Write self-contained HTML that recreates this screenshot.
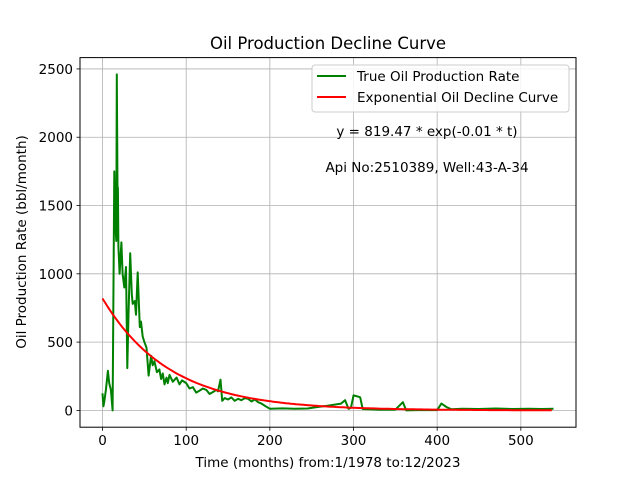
<!DOCTYPE html>
<html><head><meta charset="utf-8"><style>
body{margin:0;background:#fff}
svg text{font-family:"DejaVu Sans","Liberation Sans",sans-serif}
</style></head><body>
<svg id="chart" width="640" height="480" viewBox="0 0 640 480" xmlns="http://www.w3.org/2000/svg">
<rect width="640" height="480" fill="#fff"/>
<g id="grid"></g>
<g id="series"></g>
<rect x="80" y="57.6" width="496" height="369.6" fill="none" stroke="#000" stroke-width="1"/>
<g id="ticks"></g>
<text x="328" y="49" font-size="16.5" text-anchor="middle">Oil Production Decline Curve</text>
<text x="328" y="467" font-size="13.5" text-anchor="middle">Time (months) from:1/1978 to:12/2023</text>
<text x="0" y="0" font-size="13.5" text-anchor="middle" transform="translate(26,242) rotate(-90)">Oil Production Rate (bbl/month)</text>
<g>
<rect x="312" y="65" width="257" height="47" rx="3" fill="#fff" fill-opacity="0.85" stroke="#ccc"/>
<line x1="317" y1="76" x2="346" y2="76" stroke="green" stroke-width="2"/>
<text x="357" y="81" font-size="13.5">True Oil Production Rate</text>
<line x1="317" y1="97" x2="346" y2="97" stroke="red" stroke-width="2"/>
<text x="357" y="102" font-size="13.5">Exponential Oil Decline Curve</text>
</g>
<text x="427" y="136" font-size="13.5" text-anchor="middle">y = 819.47 * exp(-0.01 * t)</text>
<text x="427" y="172" font-size="13.5" text-anchor="middle">Api No:2510389, Well:43-A-34</text>
</svg>
<script>
const months=[0,1,2,4,6.4,8,10,12,14,15,16.4,17,18,18.4,19,20.4,22.5,24,26,28,29.6,31,33,35,36,38.5,40,42,44.5,46,48,50,52.5,55,58,60,62,65,68,70,72,74,76.5,78,80,84,88.5,92,95,100,104,108,112,116,120,124,128,132,136,138,141,143,146,150,154,158,162,166,170,174,178,182,186,190,195,200,215,230,245,257,270,285,290,294,297,300,306,308,311,330,350,359,363,380,400,405,411,417,430,450,470,490,510,525,539];
const oilRate=[125,30,60,150,290,200,150,0,1750,1400,1240,2460,1500,1630,1200,1000,1230,1000,900,1050,310,700,1150,850,780,800,700,1010,610,650,540,500,460,255,400,330,360,280,300,230,270,190,240,200,260,210,240,190,220,200,160,170,130,145,160,150,120,135,150,140,225,70,90,80,95,70,85,75,90,85,65,80,60,50,30,12,15,12,14,25,35,50,75,12,20,110,100,95,10,5,5,60,0,3,2,50,25,8,12,10,14,10,12,10,12];
const fitA=819.47, fitK=0.0125;
const tickX=[0,100,200,300,400,500], tickY=[0,500,1000,1500,2000,2500];
const xMin=-26.95,xMax=565.95,yMin=-123,yMax=2583;
const L=80,R=576,T=57.6,B=427.2;
const sx=v=>L+(v-xMin)/(xMax-xMin)*(R-L);
const sy=v=>B-(v-yMin)/(yMax-yMin)*(B-T);
const NS="http://www.w3.org/2000/svg";
const grid=document.getElementById('grid'),ticks=document.getElementById('ticks'),series=document.getElementById('series');
function mk(tag,attrs,parent){const e=document.createElementNS(NS,tag);for(const k in attrs)e.setAttribute(k,attrs[k]);parent.appendChild(e);return e;}
tickX.forEach(v=>{
  const g=mk('line',{x1:sx(v),x2:sx(v),y1:T,y2:B,stroke:'#b0b0b0','stroke-width':0.8},grid);
  
  
  const t=mk('line',{x1:sx(v),x2:sx(v),y1:B,y2:B+3.5,stroke:'#000','stroke-width':0.8},ticks);
  
  
  const l=mk('text',{x:sx(v),y:B+18,'font-size':13.5,'text-anchor':'middle'},ticks);
  
  
  l.textContent=v;
});
tickY.forEach(v=>{
  const g=mk('line',{x1:L,x2:R,y1:sy(v),y2:sy(v),stroke:'#b0b0b0','stroke-width':0.8},grid);
  
  
  const t=mk('line',{x1:L-3.5,x2:L,y1:sy(v),y2:sy(v),stroke:'#000','stroke-width':0.8},ticks);
  
  
  const l=mk('text',{x:L-7,y:sy(v)+5,'font-size':13.5,'text-anchor':'end'},ticks);
  
  
  l.textContent=v;
});
const gp=months.map((m,i)=>sx(m).toFixed(1)+','+sy(oilRate[i]).toFixed(1)).join(' ');
const pl=mk('polyline',{points:gp,fill:'none',stroke:'green','stroke-width':2,'stroke-linejoin':'round'},series);


const tEnd=months[months.length-1];const fp=[];
for(let t=0;t<=tEnd;t+=3)fp.push(sx(t).toFixed(1)+','+sy(fitA*Math.exp(-fitK*t)).toFixed(1));
const fl=mk('polyline',{points:fp.join(' '),fill:'none',stroke:'red','stroke-width':2},series);


</script>
</body></html>
